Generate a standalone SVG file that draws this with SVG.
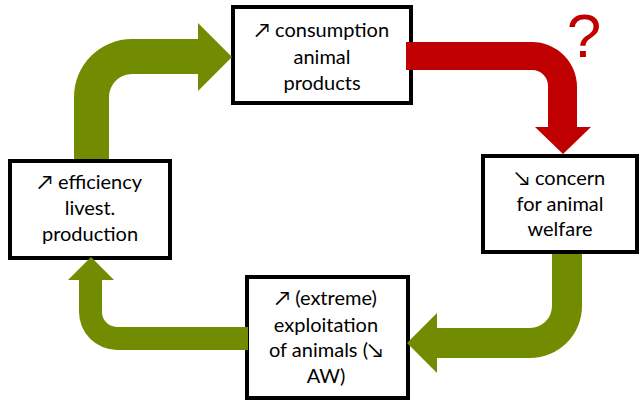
<svg xmlns="http://www.w3.org/2000/svg" width="641" height="403" viewBox="0 0 641 403">
<style>
.box{fill:#fff;stroke:#000;stroke-width:4;}
.t{font-family:Lato,"Open Sans","DejaVu Sans",sans-serif;font-size:20px;fill:#000;text-anchor:middle;}
.g{fill:#718C00;}
.r{fill:#C00000;}
</style>
<rect width="641" height="403" fill="#fff"/>
<g id="n-consumption">
<rect class="box" x="233" y="7" width="178" height="96"/>
<text class="t" x="322" y="37">↗ consumption</text>
<text class="t" x="322" y="63.5">animal</text>
<text class="t" x="322" y="90">products</text>
</g>
<g id="n-efficiency">
<rect class="box" x="10" y="161" width="160" height="97"/>
<text class="t" x="90" y="189">↗ efficiency</text>
<text class="t" x="90" y="215">livest.</text>
<text class="t" x="90" y="241">production</text>
</g>
<g id="n-concern">
<rect class="box" x="483" y="156" width="154" height="96"/>
<text class="t" x="560" y="185">↘ concern</text>
<text class="t" x="560" y="211">for animal</text>
<text class="t" x="560" y="236">welfare</text>
</g>
<g id="n-exploitation">
<rect class="box" x="247" y="277" width="161" height="121"/>
<text class="t" x="326" y="305">↗ (extreme)</text>
<text class="t" x="326" y="332">exploitation</text>
<text class="t" x="326" y="357">of animals (↘</text>
<text class="t" x="326" y="383">AW)</text>
</g>
<g id="connectors">
<path class="g" d="M74,159 V97 A58,58 0 0 1 132,39 H198 V23 L232,57 L198,91 V74 H132 A23,23 0 0 0 109,97 V159 Z"/>
<path class="r" d="M406,42 H532 A45,45 0 0 1 577,87 V127 H591 L563,154 L535,127 H548 V87 A16,16 0 0 0 532,70 H406 Z"/>
<path class="g" d="M552,254 H582 V306 A52,52 0 0 1 530,358 H437 V373 L407,343 L437,313 V328 H530 A22,22 0 0 0 552,306 Z"/>
<path class="g" d="M248,327 V350 H117 A38,38 0 0 1 79,312 V280 H68 L91,257 L114,280 H102 V312 A15,15 0 0 0 117,327 Z"/>
<text x="584" y="57" font-family="'Liberation Sans',Arial,sans-serif" font-size="62" fill="#C00000" text-anchor="middle">?</text>
</g>
</svg>
